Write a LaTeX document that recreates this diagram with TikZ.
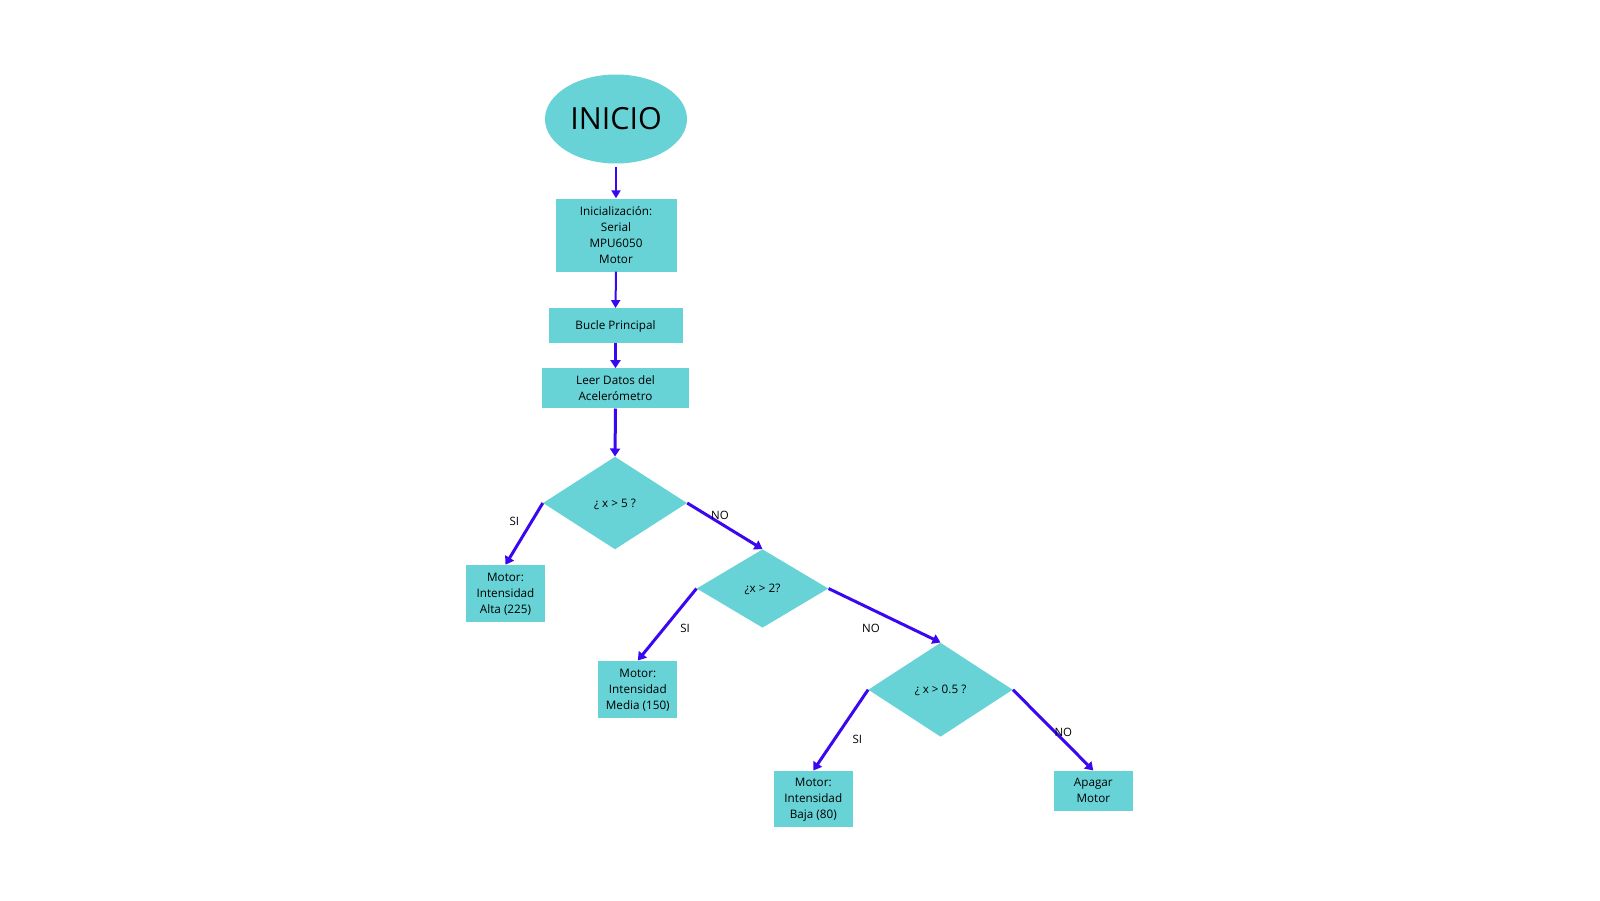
\documentclass[tikz,border=0pt]{standalone}
\usepackage{fontspec}
\setmainfont{Open Sans}
\usetikzlibrary{shapes.geometric,arrows.meta}
\definecolor{caja}{RGB}{103,211,214}
\definecolor{flecha}{RGB}{58,8,240}

\begin{document}
\begin{tikzpicture}[x=1pt,y=-1pt,
        caja/.style={rectangle,fill=caja,inner sep=0pt,align=center,
            text depth=0pt,font=\fontsize{11.7}{16}\selectfont},
        rombo/.style={diamond,fill=caja,inner sep=0pt,aspect=1.5,
            text depth=0pt,font=\fontsize{11.7}{15}\selectfont},
        flechafina/.style={draw=flecha,line width=2pt,
            -{Triangle[length=8pt,width=9pt]}},
        flechagruesa/.style={draw=flecha,line width=3pt,
            -{Triangle[length=8pt,width=10pt]}},
        etiqueta/.style={font=\fontsize{11.5}{14}\selectfont,inner sep=0pt}]
            \useasboundingbox (0,0) rectangle (1600,900);

            \node[ellipse,fill=caja,minimum width=142pt,minimum height=89pt,
                inner sep=0pt,font=\fontsize{30.5}{36}\selectfont]
                (inicio) at (616,119) {INICIO};
            \node[caja,minimum width=121pt,minimum height=73pt]
                (init) at (616,235) {Inicialización:\\Serial\\MPU6050\\Motor};
            \node[caja,minimum width=134pt,minimum height=34.5pt]
                (bucle) at (615.5,325.5) {Bucle Principal};
            \node[caja,minimum width=147pt,minimum height=40pt]
                (leer) at (615.5,388.3) {Leer Datos del\\Acelerómetro};

            % decisiones
            \node[rombo,minimum width=144pt,minimum height=92.6pt]
                (d1) at (615,503) {¿ x > 5 ?};
            \node[rombo,minimum width=131.6pt,minimum height=78.4pt]
                (d2) at (762.5,588.5) {¿x > 2?};
            \node[rombo,minimum width=144.4pt,minimum height=94pt]
                (d3) at (940.5,689.7) {¿ x > 0.5 ?};

            % salidas del motor
            \node[caja,minimum width=79pt,minimum height=56.7pt]
                (alta) at (505.5,593.3) {Motor:\\Intensidad\\Alta (225)};
            \node[caja,minimum width=79pt,minimum height=57.6pt]
                (media) at (637.8,689.5) {Motor:\\Intensidad\\Media (150)};
            \node[caja,minimum width=78.7pt,minimum height=56pt]
                (baja) at (813.3,798.7) {Motor:\\Intensidad\\Baja (80)};
            \node[caja,minimum width=78.7pt,minimum height=40pt]
                (apagar) at (1093.3,790.7) {Apagar\\Motor};

            %flechas
            \draw[flechafina] (inicio.south) ++(0,3) -- (init.north);
            \draw[flechafina] (init.south) -- (bucle.north);
            \draw[flechagruesa] (bucle.south) -- (leer.north);
            \draw[flechagruesa] (leer.south) -- (d1.north);
            \draw[flechagruesa] (d1.west) -- (alta.north);
            \draw[flechagruesa] (d1.east) -- (d2.north);
            \draw[flechagruesa] (d2.west) -- (media.north);
            \draw[flechagruesa] (d2.east) -- (d3.north);
            \draw[flechagruesa] (d3.west) -- (baja.north);
            \draw[flechagruesa] (d3.east) -- (apagar.north);

            %etiquetas
            \node[etiqueta] (si1) at (514.3,521.7) {SI};
            \node[etiqueta] (no1) at (720,515) {NO};
            \node[etiqueta] (si2) at (685,628.3) {SI};
            \node[etiqueta] (no2) at (871,628.3) {NO};
            \node[etiqueta] (si3) at (857.3,739.3) {SI};
            \node[etiqueta] (no3) at (1063.3,732.7) {NO};
\end{tikzpicture}
\end{document}
